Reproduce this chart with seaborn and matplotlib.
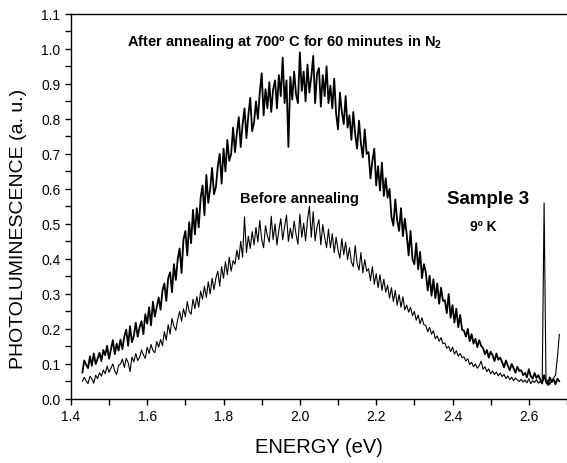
import numpy as np
import pandas as pd
import matplotlib
matplotlib.use('Agg')
import matplotlib.pyplot as plt
from matplotlib.ticker import MultipleLocator, FormatStrFormatter
import seaborn as sns

# energy grid of the spectra (eV), one reading every 5 meV
energy = np.round(np.arange(1.430, 2.6801, 0.005), 3)

# after annealing at 700 C, 60 min in N2
after = [
    0.075, 0.110, 0.098, 0.088, 0.122, 0.095, 0.130, 0.100, 0.115, 0.132,
    0.108, 0.140, 0.125, 0.152, 0.115, 0.142, 0.168, 0.128, 0.158, 0.138,
    0.170, 0.142, 0.178, 0.198, 0.152, 0.208, 0.162, 0.180, 0.218, 0.178,
    0.205, 0.222, 0.185, 0.242, 0.215, 0.262, 0.210, 0.278, 0.235, 0.262,
    0.290, 0.255, 0.310, 0.330, 0.280, 0.345, 0.362, 0.305, 0.385, 0.340,
    0.400, 0.430, 0.360, 0.455, 0.480, 0.410, 0.505, 0.445, 0.540, 0.470,
    0.545, 0.490, 0.575, 0.610, 0.525, 0.640, 0.560, 0.600, 0.660, 0.585,
    0.605, 0.665, 0.700, 0.615, 0.715, 0.650, 0.740, 0.680, 0.700, 0.775,
    0.705, 0.760, 0.805, 0.720, 0.785, 0.830, 0.745, 0.810, 0.860, 0.765,
    0.790, 0.850, 0.800, 0.875, 0.930, 0.810, 0.885, 0.830, 0.905, 0.820,
    0.885, 0.910, 0.830, 0.925, 0.865, 0.975, 0.845, 0.910, 0.720, 0.920,
    0.855, 0.935, 0.870, 0.845, 0.990, 0.880, 0.935, 0.850, 0.955, 0.875,
    0.920, 0.980, 0.845, 0.930, 0.945, 0.835, 0.925, 0.865, 0.950, 0.845,
    0.895, 0.830, 0.915, 0.815, 0.770, 0.875, 0.820, 0.785, 0.865, 0.775,
    0.810, 0.740, 0.820, 0.755, 0.715, 0.795, 0.730, 0.690, 0.770, 0.700,
    0.705, 0.630, 0.680, 0.715, 0.610, 0.665, 0.595, 0.675, 0.580, 0.630,
    0.575, 0.600, 0.520, 0.495, 0.570, 0.510, 0.480, 0.545, 0.465, 0.515,
    0.470, 0.410, 0.480, 0.400, 0.385, 0.445, 0.370, 0.420, 0.345, 0.385,
    0.362, 0.310, 0.352, 0.295, 0.342, 0.288, 0.330, 0.272, 0.318, 0.280,
    0.282, 0.245, 0.300, 0.232, 0.268, 0.218, 0.258, 0.205, 0.240, 0.198,
    0.195, 0.178, 0.200, 0.165, 0.185, 0.158, 0.172, 0.148, 0.168, 0.152,
    0.145, 0.128, 0.140, 0.118, 0.135, 0.125, 0.108, 0.130, 0.112, 0.118,
    0.105, 0.090, 0.110, 0.095, 0.082, 0.100, 0.088, 0.075, 0.092, 0.080,
    0.082, 0.068, 0.075, 0.062, 0.085, 0.065, 0.058, 0.074, 0.060, 0.068,
    0.055, 0.045, 0.068, 0.050, 0.040, 0.062, 0.048, 0.056, 0.042, 0.058,
    0.050,
]

# before annealing
before = [
    0.050, 0.062, 0.052, 0.044, 0.065, 0.057, 0.045, 0.068, 0.058, 0.075,
    0.065, 0.083, 0.072, 0.094, 0.076, 0.088, 0.100, 0.080, 0.070, 0.096,
    0.100, 0.114, 0.090, 0.116, 0.104, 0.078, 0.120, 0.106, 0.130, 0.110,
    0.118, 0.140, 0.126, 0.116, 0.148, 0.130, 0.156, 0.138, 0.132, 0.164,
    0.148, 0.170, 0.152, 0.192, 0.168, 0.212, 0.185, 0.230, 0.208, 0.196,
    0.228, 0.250, 0.222, 0.258, 0.235, 0.278, 0.250, 0.242, 0.285, 0.258,
    0.292, 0.262, 0.308, 0.285, 0.322, 0.290, 0.335, 0.300, 0.345, 0.312,
    0.345, 0.365, 0.322, 0.378, 0.345, 0.392, 0.355, 0.405, 0.365, 0.395,
    0.385, 0.425, 0.398, 0.450, 0.405, 0.520, 0.418, 0.465, 0.430, 0.478,
    0.440, 0.490, 0.448, 0.510, 0.455, 0.432, 0.495, 0.465, 0.448, 0.522,
    0.455, 0.500, 0.440, 0.482, 0.515, 0.455, 0.492, 0.525, 0.450, 0.488,
    0.458, 0.508, 0.470, 0.442, 0.528, 0.462, 0.502, 0.452, 0.512, 0.550,
    0.462, 0.535, 0.452, 0.492, 0.512, 0.440, 0.498, 0.462, 0.432, 0.485,
    0.432, 0.472, 0.418, 0.462, 0.425, 0.402, 0.458, 0.412, 0.448, 0.398,
    0.432, 0.392, 0.378, 0.438, 0.388, 0.368, 0.418, 0.360, 0.398, 0.365,
    0.372, 0.338, 0.378, 0.328, 0.358, 0.318, 0.355, 0.310, 0.342, 0.305,
    0.325, 0.288, 0.318, 0.278, 0.310, 0.268, 0.298, 0.262, 0.292, 0.255,
    0.268, 0.248, 0.262, 0.238, 0.250, 0.225, 0.240, 0.215, 0.232, 0.212,
    0.210, 0.192, 0.205, 0.185, 0.195, 0.172, 0.180, 0.165, 0.175, 0.158,
    0.160, 0.145, 0.150, 0.135, 0.148, 0.128, 0.138, 0.122, 0.130, 0.118,
    0.120, 0.108, 0.115, 0.098, 0.105, 0.092, 0.100, 0.088, 0.095, 0.108,
    0.085, 0.092, 0.078, 0.086, 0.072, 0.080, 0.070, 0.077, 0.066, 0.074,
    0.064, 0.070, 0.058, 0.066, 0.055, 0.062, 0.052, 0.060, 0.054, 0.050,
    0.056, 0.048, 0.054, 0.046, 0.058, 0.044, 0.052, 0.047, 0.055, 0.045,
    0.050, 0.043, 0.560, 0.046, 0.054, 0.041, 0.053, 0.060, 0.068, 0.120,
    0.185,
]

df = pd.DataFrame({'energy': energy, 'after': after, 'before': before})

sns.set_style('ticks')
plt.rcParams['font.family'] = ['Liberation Sans', 'DejaVu Sans']
plt.rcParams['text.color'] = 'black'
plt.rcParams['axes.labelcolor'] = 'black'
plt.rcParams['mathtext.fontset'] = 'custom'
plt.rcParams['mathtext.rm'] = 'Liberation Sans'
plt.rcParams['mathtext.bf'] = 'Liberation Sans:bold'
plt.rcParams['mathtext.default'] = 'bf'

fig = plt.figure(figsize=(5.67, 4.64), dpi=100)
ax = fig.add_axes([0.125, 0.138, 0.875, 0.83])

sns.lineplot(data=df, x='energy', y='after', color='black', lw=1.3, ax=ax)
sns.lineplot(data=df, x='energy', y='before', color='black', lw=0.8, ax=ax)

ax.set_xlim(1.4, 2.7)
ax.set_ylim(0.0, 1.1)
ax.xaxis.set_major_locator(MultipleLocator(0.2))
ax.xaxis.set_minor_locator(MultipleLocator(0.1))
ax.yaxis.set_major_locator(MultipleLocator(0.1))
ax.yaxis.set_minor_locator(MultipleLocator(0.05))
ax.tick_params(which='both', direction='out', length=4, width=1, colors='black', labelsize=10)
ax.xaxis.set_major_formatter(FormatStrFormatter('%.1f'))
ax.yaxis.set_major_formatter(FormatStrFormatter('%.1f'))

for s in ['left', 'bottom', 'top']:
    ax.spines[s].set_color('black')
    ax.spines[s].set_linewidth(1)
ax.spines['right'].set_visible(False)

ax.set_xlabel('ENERGY (eV)', fontsize=14.5, labelpad=10)
ax.set_ylabel('PHOTOLUMINESCENCE (a. u.)', fontsize=14)
ax.yaxis.set_label_coords(-0.088, 0.444)

ax.text(1.546, 1.022, 'After annealing at 700º C for 60 minutes in N$_2$',
        fontsize=10.5, fontweight='bold', va='center', color='black')
ax.text(1.842, 0.574, 'Before annealing', fontsize=10.5, fontweight='bold',
        va='center', color='black')
ax.text(2.386, 0.574, 'Sample 3', fontsize=13.5, fontweight='bold',
        va='center', color='black')
ax.text(2.446, 0.494, '9º K', fontsize=10, fontweight='bold', va='center', color='black')

fig.savefig('out.png', dpi=100)
